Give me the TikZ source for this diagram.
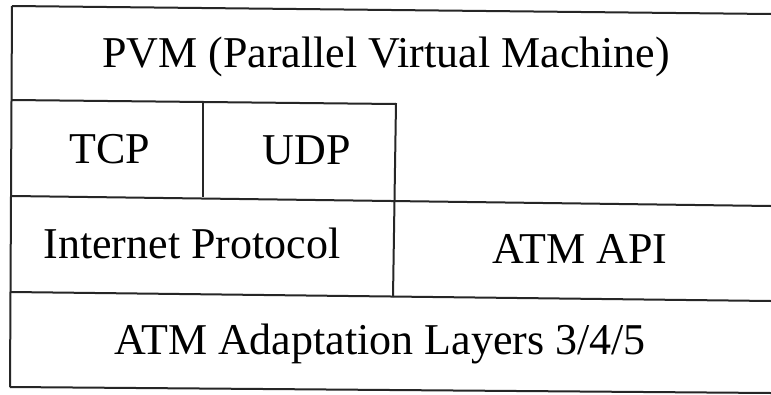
\documentclass[tikz,border=0pt]{standalone}
\usepackage{fontspec}
\setmainfont{Liberation Serif}
\begin{document}
\begin{tikzpicture}[x=1pt,y=-1pt,
  rule/.style={line width=2pt,black!85},
  lbl/.style={font=\fontsize{44}{47}\selectfont,inner sep=0pt,anchor=base}]
\useasboundingbox[fill=white] (0,0) rectangle (771,394);
% outer lines
\draw[rule] (12,6) -- (771,14);
\draw[rule] (12,6) -- (10,387);
\draw[rule] (10,387) -- (771,393);
% inner lines
\draw[rule] (12,100) -- (396,104);
\draw[rule] (12,196) -- (771,206);
\draw[rule] (11,292) -- (771,301);
\draw[rule] (203,101) -- (203,197);
\draw[rule] (396,103) -- (393,297);
% labels
\node[lbl] (pvm) at (386,67) {PVM (Parallel Virtual Machine)};
\node[lbl] (tcp) at (110,163) {TCP};
\node[lbl] (udp) at (307,164) {UDP};
\node[lbl] (ip) at (192,258) {Internet Protocol};
\node[lbl] (api) at (580,263) {ATM API};
\node[lbl] (aal) at (380,354) {ATM Adaptation Layers 3/4/5};
\end{tikzpicture}
\end{document}
